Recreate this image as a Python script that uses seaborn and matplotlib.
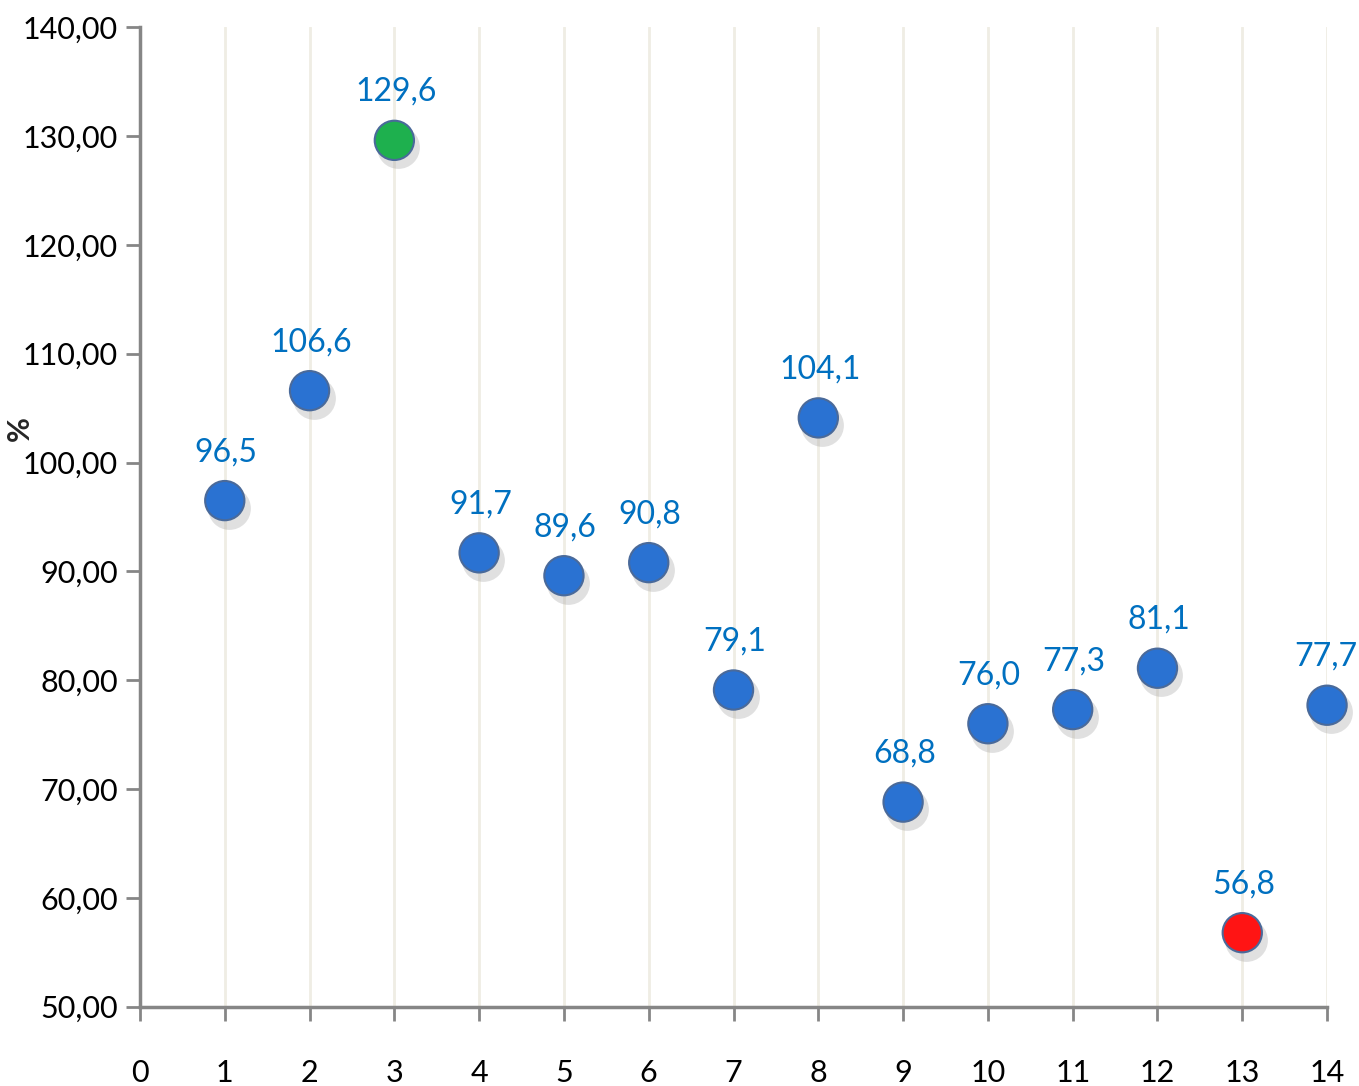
import pandas as pd
import seaborn as sns
import numpy as np
import matplotlib
matplotlib.use("Agg")
import matplotlib.pyplot as plt
import matplotlib.transforms as mtransforms

# data
x_vals = [1, 2, 3, 4, 5, 6, 7, 8, 9, 10, 11, 12, 13, 14]
y_vals = [96.5, 106.6, 129.6, 91.7, 89.6, 90.8, 79.1, 104.1, 68.8, 76.0, 77.3, 81.1, 56.8, 77.7]
labels = ["96,5", "106,6", "129,6", "91,7", "89,6", "90,8", "79,1", "104,1",
          "68,8", "76,0", "77,3", "81,1", "56,8", "77,7"]
groups = ["mid", "mid", "max", "mid", "mid", "mid", "mid", "mid",
          "mid", "mid", "mid", "mid", "min", "mid"]
y_ticks = [50, 60, 70, 80, 90, 100, 110, 120, 130, 140]
x_ticks = list(range(0, 15))

df = pd.DataFrame({"x": x_vals, "y": y_vals, "label": labels, "group": groups})

sns.set_style("white")
plt.rcParams['font.family'] = ['Lato', 'DejaVu Sans']

fig = plt.figure(figsize=(13.59, 10.86), dpi=100)
ax = fig.add_axes([0.103, 0.073, 0.8735, 0.902])

palette = {"mid": "#2A72D2", "max": "#1EB04E", "min": "#FF1414"}

# soft shadow under each ball
shadow = mtransforms.offset_copy(ax.transData, fig=fig, x=4, y=-7, units='dots')
ax.scatter(df.x, df.y, s=950, color="#9a9a9a", alpha=0.3, linewidths=0,
           transform=shadow, zorder=2, clip_on=False)

sns.scatterplot(data=df, x="x", y="y", hue="group", palette=palette, s=800,
                edgecolor="#4a6a9a", linewidth=1.5, legend=False, ax=ax,
                zorder=3, clip_on=False)

for xi, yi, lab in zip(df.x, df.y, df.label):
    ax.annotate(lab, (xi, yi), xytext=(1 if xi < 14 else -1, 24),
                textcoords="offset points", ha="center", va="bottom",
                color="#0070C0", fontsize=23)

ax.set_xlim(0, 14)
ax.set_ylim(50, 140)
ax.set_xticks(x_ticks)
ax.set_yticks(y_ticks)
ax.set_yticklabels([f"{t:.2f}".replace(".", ",") for t in y_ticks])
ax.tick_params(axis="both", labelsize=22, colors="#868686", labelcolor="black",
               length=10, width=2, direction="out", bottom=True, left=True)
ax.tick_params(axis="x", pad=28)
ax.tick_params(axis="y", pad=6)

ax.xaxis.grid(True, color="#EFEDE4", linewidth=2)
ax.yaxis.grid(False)
ax.set_axisbelow(True)

for side in ["top", "right"]:
    ax.spines[side].set_visible(False)
for side in ["left", "bottom"]:
    ax.spines[side].set_color("#868686")
    ax.spines[side].set_linewidth(2.5)

ax.set_xlabel("")
ax.set_ylabel("%", fontsize=22, fontweight="bold")
ax.yaxis.set_label_coords(-0.089, 0.59)

fig.savefig("out.png", dpi=100)
